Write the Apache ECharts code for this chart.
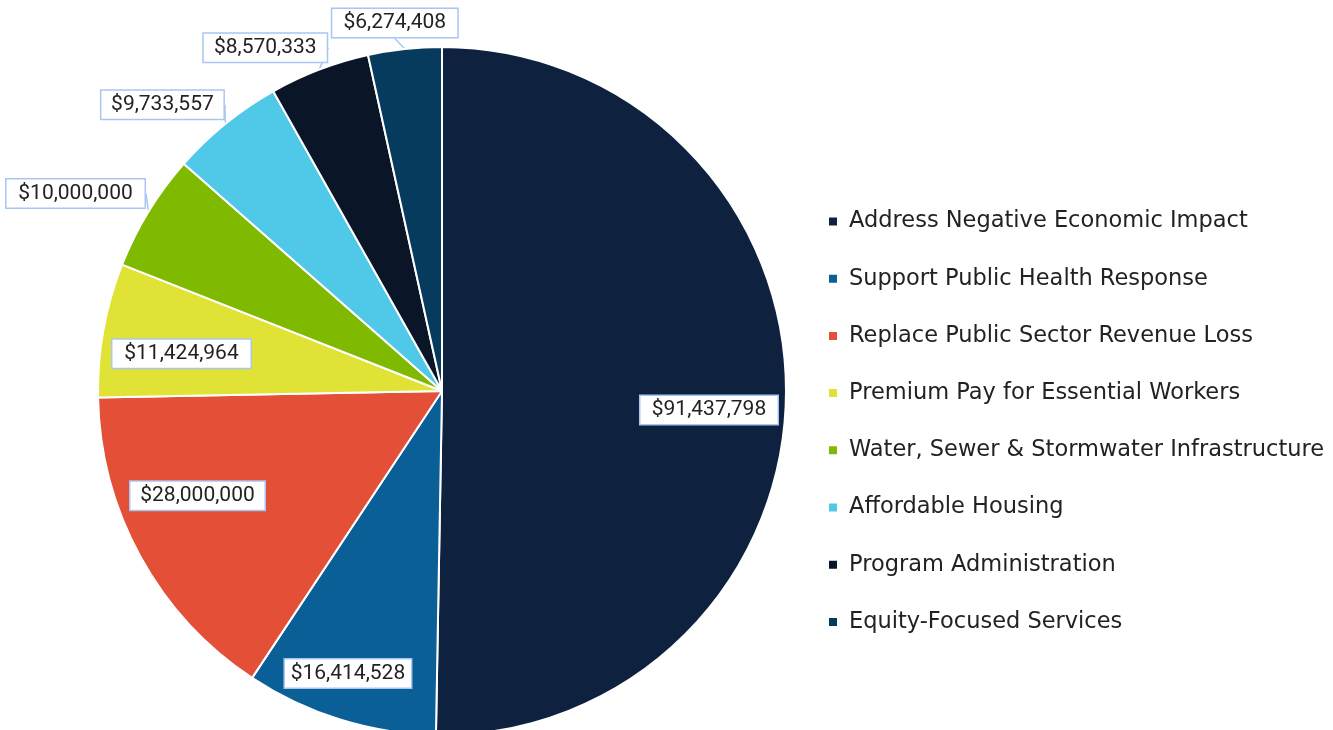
<!DOCTYPE html>
<html>
<head>
<meta charset="utf-8">
<script src="https://cdn.jsdelivr.net/npm/echarts@6/dist/echarts.min.js"></script>
<style>
  html, body { margin: 0; padding: 0; background: #fff; }
  #chart { width: 1333px; height: 730px; }
</style>
</head>
<body>
<div id="chart"></div>
<script>
const categories = [
  'Address Negative Economic Impact',
  'Support Public Health Response',
  'Replace Public Sector Revenue Loss',
  'Premium Pay for Essential Workers',
  'Water, Sewer & Stormwater Infrastructure',
  'Affordable Housing',
  'Program Administration',
  'Equity-Focused Services',
]
const amounts = [91437798, 16414528, 28000000, 11424964, 10000000, 9733557, 8570333, 6274408]
const colors = ['#0e2240', '#0a5f97', '#e44f38', '#e0e336', '#7fba00', '#50c8e8', '#0a1628', '#063b5e']

// where each callout box sits relative to the slice's edge point
const labelShift = [[-77, 16], [8, -46], [57, -61], [78, 24], [-73, -18], [-63, -19], [-54, -22], [-10, -26]]
// box widths differ a little in the original (fewer digits -> narrower box)
const labelWidth = [123, 112, 120, 124, 124, 108, 109, 111]

const chart = echarts.init(document.getElementById('chart'))

chart.setOption({
  animation: false,
  legend: {
    orient: 'vertical',
    left: 822,
    top: 205,
    icon: 'rect',
    itemWidth: 10,
    itemHeight: 10,
    itemGap: 34.2,
    textStyle: { fontFamily: 'DejaVu Sans', fontSize: 22.5, color: '#222', padding: [0, 0, 0, 6] },
  },
  series: [
    {
      type: 'pie',
      center: [442, 391],
      radius: 344,
      startAngle: 90,
      clockwise: true,
      itemStyle: { borderColor: '#fff', borderWidth: 2 },
      label: {
        show: true,
        position: 'outside',
        overflow: 'none',
        formatter: (p) => '$' + p.value.toLocaleString('en-US'),
        fontFamily: 'Roboto',
        fontSize: 21,
        color: '#222',
        backgroundColor: '#fff',
        borderColor: '#a9c6f2',
        borderWidth: 1.5,
        padding: [4, 7, 3, 7],
      },
      labelLine: { show: true, length: 0, length2: 0, lineStyle: { color: '#a9c6f2', width: 1.5 } },
      labelLayout: (params) => {
        const pt = params.labelLinePoints ? params.labelLinePoints[0] : null
        if (!pt) return {}
        const s = labelShift[params.dataIndex]
        return { x: pt[0] + s[0], y: pt[1] + s[1], align: 'center', verticalAlign: 'middle' }
      },
      emphasis: { disabled: true },
      data: categories.map((name, i) => ({
        name,
        value: amounts[i],
        itemStyle: { color: colors[i] },
        label: { width: labelWidth[i], align: 'center' },
      })),
    },
  ],
})
</script>
</body>
</html>
